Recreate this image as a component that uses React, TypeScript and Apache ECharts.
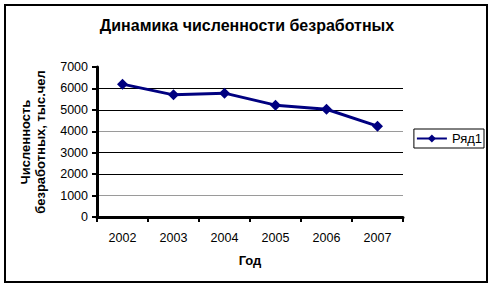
import React, { useEffect, useRef } from "react";
import * as echarts from "echarts";

const categories = ["2002", "2003", "2004", "2005", "2006", "2007"];
const seriesName = "Ряд1";
const values = [6200, 5700, 5780, 5220, 5030, 4240];
const titleText = "Динамика численности безработных";
const yAxisTitle = "Численность\nбезработных, тыс.чел";
const xAxisTitle = "Год";

const FONT = "'Liberation Sans', Arial, sans-serif";

export default function App() {
  const ref = useRef<HTMLDivElement>(null);
  useEffect(() => {
    if (!ref.current) return;
    const chart = echarts.init(ref.current, null, { renderer: "svg" });
    chart.setOption({
      animation: false,
      backgroundColor: "#fff",
      textStyle: { fontFamily: FONT },
      title: {
        text: titleText,
        left: "center",
        top: 17,
        padding: 0,
        textStyle: { fontFamily: FONT, fontSize: 16, fontWeight: "bold", color: "#000" },
      },
      graphic: [
        {
          type: "rect",
          shape: { x: 5, y: 5, width: 482, height: 277 },
          style: { fill: "none", stroke: "#000", lineWidth: 2 },
          silent: true,
        },
      ],
      legend: {
        data: [seriesName],
        orient: "vertical",
        right: 10,
        top: 129,
        padding: [3, 2, 3, 2],
        borderColor: "#000",
        borderWidth: 1,
        itemWidth: 30,
        itemHeight: 10,
        textStyle: { fontFamily: FONT, fontSize: 13, color: "#000" },
      },
      grid: { left: 97, right: 91, top: 67, bottom: 71, containLabel: false },
      xAxis: {
        type: "category",
        data: categories,
        boundaryGap: true,
        name: xAxisTitle,
        nameLocation: "middle",
        nameGap: 37,
        nameTextStyle: { fontFamily: FONT, fontSize: 13, fontWeight: "bold", color: "#000" },
        axisLine: { lineStyle: { color: "#000", width: 3 } },
        axisTick: { show: true, alignWithLabel: false, length: 5, lineStyle: { color: "#000", width: 2 } },
        axisLabel: { fontFamily: FONT, fontSize: 12.5, color: "#000", margin: 14 },
        splitLine: { show: false },
      },
      yAxis: {
        type: "value",
        min: 0,
        max: 7000,
        interval: 1000,
        name: yAxisTitle,
        nameLocation: "middle",
        nameRotate: 90,
        nameGap: 49,
        nameTextStyle: { fontFamily: FONT, fontSize: 13, fontWeight: "bold", color: "#000", lineHeight: 15 },
        axisLine: { show: true, lineStyle: { color: "#000", width: 3 } },
        axisTick: { show: true, length: 5, lineStyle: { color: "#000", width: 2 } },
        axisLabel: {
          fontFamily: FONT,
          fontSize: 12.5,
          color: "#000",
          margin: 9,
          formatter: (v: number) => String(v),
        },
        splitLine: {
          show: true,
          lineStyle: {
            color: ["#000", "#9a9a9a", "#000", "#000", "#9a9a9a", "#000", "#000", "rgba(0,0,0,0)"],
            width: 1,
          },
        },
      },
      series: [
        {
          name: seriesName,
          type: "line",
          data: values,
          symbol: "diamond",
          symbolSize: 11,
          itemStyle: { color: "#000080" },
          lineStyle: { color: "#000080", width: 3 },
        },
      ],
    });
    return () => chart.dispose();
  }, []);
  return (
    <div
      ref={ref}
      style={{ position: "fixed", left: 0, top: 0, width: 494, height: 288 }}
    />
  );
}
